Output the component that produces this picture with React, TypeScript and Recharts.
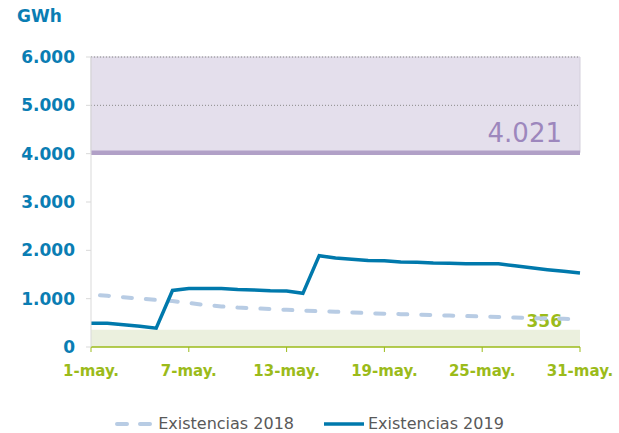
import { LineChart, Line, XAxis, YAxis, ReferenceArea, ReferenceLine } from "recharts"

const DAYS = Array.from({ length: 31 }, (_, i) => `${i + 1}-may.`)

const EXIST_2018 = [
  1080, 1060, 1030, 1000, 975, 950, 910, 870, 840, 815, 800, 785, 770, 755, 740, 730,
  715, 700, 690, 680, 670, 660, 650, 640, 630, 620, 610, 600, 590, 582, 575,
]

const EXIST_2019 = [
  490, 490, 460, 430, 390, 1170, 1210, 1210, 1210, 1190, 1180, 1165, 1160, 1110, 1890, 1840,
  1815, 1790, 1785, 1760, 1755, 1740, 1735, 1720, 1720, 1720, 1680, 1640, 1600, 1565, 1530,
]

const Y_TICKS = [0, 1000, 2000, 3000, 4000, 5000, 6000]
const MAX_LEVEL = 4021
const MIN_LEVEL = 356

const DATA = DAYS.map((d, i) => ({ day: d, e2018: EXIST_2018[i], e2019: EXIST_2019[i] }))

const BLUE = "#0a7db3"
const GREEN = "#9bbb1a"
const fmt = (v: number) => String(v).replace(/\B(?=(\d{3})+(?!\d))/g, ".")

export default function App() {
  return (
    <div style={{ position: "absolute", left: 0, top: 0, width: 619, height: 433, background: "#fff", fontFamily: "'DejaVu Sans', sans-serif" }}>
      <div style={{ position: "absolute", left: 17, top: 6, color: BLUE, fontWeight: "bold", fontSize: 17 }}>GWh</div>
      <LineChart width={619} height={433} data={DATA} margin={{ top: 57, right: 39, left: 0, bottom: 56 }}>
        <ReferenceArea y1={MAX_LEVEL} y2={6000} fill="#e4dfec" fillOpacity={1} stroke="#d4cfdc" strokeWidth={1} ifOverflow="visible" />
        <ReferenceArea y1={0} y2={MIN_LEVEL} fill="#ebf0de" fillOpacity={1} ifOverflow="visible" />
        <ReferenceLine y={6000} stroke="#8a8a8a" strokeDasharray="1 2" />
        <ReferenceLine y={5000} stroke="#8a8a8a" strokeDasharray="1 2" />
        <ReferenceLine
          y={MAX_LEVEL}
          stroke="#b1a0c7"
          strokeWidth={4.5}
          label={(p: any) => (
            <text x={p.viewBox.x + p.viewBox.width - 18} y={p.viewBox.y - 11} textAnchor="end" fill="#9d87bd" fontSize={26} fontFamily="'DejaVu Sans', sans-serif">
              {fmt(MAX_LEVEL)}
            </text>
          )}
        />
        <XAxis
          dataKey="day"
          interval={5}
          axisLine={{ stroke: GREEN, strokeWidth: 1.5 }}
          tickLine={{ stroke: GREEN }}
          tickSize={5}
          tickMargin={13}
          height={30}
          tick={{ fill: GREEN, fontSize: 15, fontWeight: "bold", fontFamily: "'DejaVu Sans', sans-serif" }}
        />
        <YAxis
          domain={[0, 6000]}
          ticks={Y_TICKS}
          width={91}
          axisLine={{ stroke: "#d9d9d9" }}
          tickLine={{ stroke: "#d9d9d9" }}
          tickSize={5}
          tickMargin={11}
          tickFormatter={fmt}
          tick={{ fill: BLUE, fontSize: 17, fontWeight: "bold", fontFamily: "'DejaVu Sans', sans-serif" }}
        />
        <ReferenceLine
          y={MIN_LEVEL}
          stroke="none"
          label={(p: any) => (
            <text x={p.viewBox.x + p.viewBox.width - 18} y={p.viewBox.y - 3} textAnchor="end" fill={GREEN} fontSize={17} fontWeight="bold" fontFamily="'DejaVu Sans', sans-serif">
              {MIN_LEVEL}
            </text>
          )}
        />
        <Line dataKey="e2018" stroke="#b8cce4" strokeWidth={4} strokeLinecap="round" strokeDasharray="9 14" strokeDashoffset={14} dot={false} isAnimationActive={false} />
        <Line dataKey="e2019" stroke="#0079ac" strokeWidth={3.5} dot={false} isAnimationActive={false} />
      </LineChart>
      <div style={{ position: "absolute", top: 414, left: 0, width: 619, display: "flex", justifyContent: "center", alignItems: "center", fontSize: 16, color: "#595959" }}>
        <svg width={37} height={6} style={{ marginRight: 6 }}>
          <line x1={2} y1={3} x2={35} y2={3} stroke="#b8cce4" strokeWidth={4} strokeLinecap="round" strokeDasharray="10 13" />
        </svg>
        <span style={{ marginRight: 30 }}>Existencias 2018</span>
        <svg width={40} height={6} style={{ marginRight: 4 }}>
          <line x1={0} y1={3} x2={40} y2={3} stroke="#0079ac" strokeWidth={3.5} />
        </svg>
        <span>Existencias 2019</span>
      </div>
    </div>
  )
}
